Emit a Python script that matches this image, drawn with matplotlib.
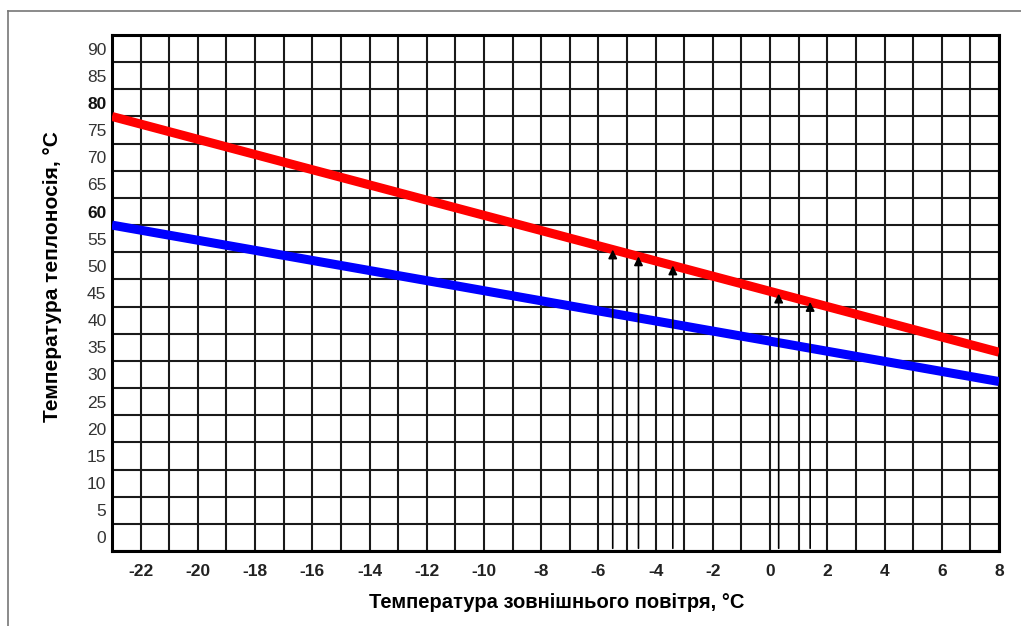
import matplotlib
matplotlib.use("Agg")
import matplotlib.pyplot as plt
from matplotlib.lines import Line2D
import numpy as np

plt.rcParams['font.family'] = ['Liberation Sans', 'DejaVu Sans']

# Data
outdoor_t = [-23, 8]
supply_t = [80.0, 36.6]     # red line
return_t = [60.0, 31.2]     # blue line
arrow_x = [-5.5, -4.6, -3.4, 0.3, 1.4]
x_ticks = [-22, -20, -18, -16, -14, -12, -10, -8, -6, -4, -2, 0, 2, 4, 6, 8]
y_labels = [0, 5, 10, 15, 20, 25, 30, 35, 40, 45, 50, 55, 60, 65, 70, 75, 80, 85, 90]
bold_y = [60, 80]

fig = plt.figure(figsize=(10.21, 6.26), dpi=100)
ax = fig.add_axes([112/1021, 1-551/626, (999-112)/1021, (551-35)/626])
ax.set_xlim(-23, 8)
ax.set_ylim(0, 95)

# x: labelled major ticks + minor ticks every 1 degree, both gridded
ax.set_xticks(x_ticks)
ax.set_xticklabels([str(v) for v in x_ticks], fontsize=12.5, fontweight='bold', color='#222222')
ax.set_xticks(np.arange(-23, 9, 1), minor=True)
# y: gridlines every 5, labels centred inside cells
ax.set_yticks(np.arange(0, 96, 5))
ax.set_yticklabels([])
ax.set_yticks([v + 2.5 for v in y_labels], minor=True)
ax.set_yticklabels([str(v) for v in y_labels], minor=True, fontsize=12.5, color='#333333')
for lab, v in zip(ax.get_yticklabels(minor=True), y_labels):
    if v in bold_y:
        lab.set_fontweight('bold')
        lab.set_color('#111111')

ax.grid(True, which='major', color='#1a1a1a', linewidth=1.5)
ax.grid(True, which='minor', axis='x', color='#1a1a1a', linewidth=1.5)
ax.set_axisbelow(True)
ax.tick_params(which='both', length=0)
ax.tick_params(axis='y', which='minor', pad=4)
ax.tick_params(axis='x', which='major', pad=9)

for s in ax.spines.values():
    s.set_linewidth(2.2)
    s.set_color('black')

ax.plot(outdoor_t, supply_t, color='#ff0000', linewidth=6.5, solid_capstyle='butt', zorder=3)
ax.plot(outdoor_t, return_t, color='#0000ff', linewidth=6.5, solid_capstyle='butt', zorder=3)

for xa in arrow_x:
    ytop = np.interp(xa, outdoor_t, supply_t)
    ax.annotate('', xy=(xa, ytop), xytext=(xa, 0.5),
                arrowprops=dict(arrowstyle='-|>', color='black', lw=1.2,
                                mutation_scale=13, shrinkA=0, shrinkB=0),
                zorder=4)

ax.set_xlabel('Температура зовнішнього повітря, °C', fontsize=14.5, fontweight='bold')
ax.xaxis.set_label_coords((557 - 112) / 887, -(603 - 551) / 516)
ax.set_ylabel('Температура теплоносія, °C', fontsize=15, fontweight='bold')
ax.yaxis.set_label_coords((52 - 112) / 887, (551 - 277) / 516)
ax.xaxis.label.set_verticalalignment('center')
ax.yaxis.label.set_verticalalignment('center')

# outer frame lines
fig.add_artist(Line2D([8/1021, 1], [1-11/626, 1-11/626], color='#777777', lw=1.2, transform=fig.transFigure))
fig.add_artist(Line2D([8/1021, 8/1021], [0, 1-11/626], color='#777777', lw=1.2, transform=fig.transFigure))

fig.savefig('out.png', dpi=100)
